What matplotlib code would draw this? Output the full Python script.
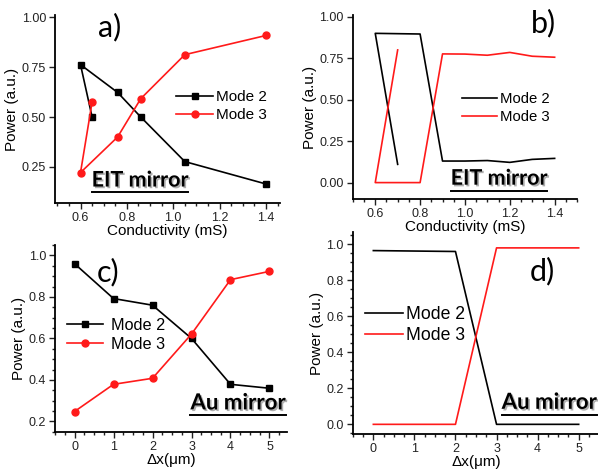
import matplotlib
matplotlib.use("Agg")
import matplotlib.pyplot as plt
import matplotlib.patheffects as pe
from matplotlib.ticker import AutoMinorLocator, FormatStrFormatter
from matplotlib.lines import Line2D

plt.rcParams["font.family"] = ["Liberation Sans", "DejaVu Sans"]

# ---- data ----------------------------------------------------------------
# a) EIT mirror, discrete points
a_x = [0.65, 0.60, 0.76, 0.86, 1.05, 1.40]
a_mode2 = [0.50, 0.762, 0.623, 0.50, 0.277, 0.165]
a_mode3 = [0.575, 0.222, 0.40, 0.592, 0.812, 0.908]

# b) EIT mirror, simulation
b_x = [0.7, 0.6, 0.8, 0.9, 1.0, 1.1, 1.2, 1.3, 1.4]
b_mode2 = [0.11, 0.90, 0.896, 0.13, 0.13, 0.133, 0.122, 0.14, 0.146]
b_mode3 = [0.80, 0.0, 0.0, 0.776, 0.775, 0.768, 0.785, 0.762, 0.756]

# c) Au mirror, discrete points
c_x = [0, 1, 2, 3, 4, 5]
c_mode2 = [0.96, 0.792, 0.76, 0.60, 0.379, 0.36]
c_mode3 = [0.248, 0.379, 0.408, 0.621, 0.883, 0.923]

# d) Au mirror, simulation
d_x = [0, 2, 3, 5]
d_mode2 = [0.965, 0.96, 0.0, 0.0]
d_mode3 = [0.0, 0.0, 0.98, 0.98]

labels = ["Mode 2", "Mode 3"]
RED = "#ff1a1a"
SHADOW = [pe.withSimplePatchShadow(offset=(1.2, -1.2), shadow_rgbFace="0.55",
                                   alpha=0.7)]

fig = plt.figure(figsize=(5.98, 4.72), dpi=100)
ax_a = fig.add_axes([0.092, 0.570, 0.376, 0.398])
ax_b = fig.add_axes([0.590, 0.578, 0.375, 0.390])
ax_c = fig.add_axes([0.092, 0.085, 0.388, 0.396])
ax_d = fig.add_axes([0.590, 0.080, 0.412, 0.428])
for ax in (ax_a, ax_b, ax_c, ax_d):
    ax.patch.set_alpha(0)


def style(ax, xfmt, yfmt, yminor):
    for s in ("top", "right"):
        ax.spines[s].set_visible(False)
    for s in ("left", "bottom"):
        ax.spines[s].set_linewidth(1.3)
    ax.tick_params(which="both", direction="out", width=1.0, labelsize=9,
                   colors="#222222", pad=2.5)
    ax.tick_params(which="major", length=4)
    ax.tick_params(which="minor", length=2)
    ax.xaxis.set_minor_locator(AutoMinorLocator(4))
    if yminor:
        ax.yaxis.set_minor_locator(AutoMinorLocator(yminor))
    ax.xaxis.set_major_formatter(FormatStrFormatter(xfmt))
    ax.yaxis.set_major_formatter(FormatStrFormatter(yfmt))


def tag(ax, txt, x, y, size, ha="center"):
    return ax.text(x, y, txt, transform=ax.transAxes, ha=ha, va="center",
                   fontsize=size, fontweight="bold", family="Lato",
                   path_effects=SHADOW)


def panel(ax, txt, x, y):
    ax.text(x, y, txt, transform=ax.transAxes, ha="center", va="center",
            fontsize=22, family="Lato")


def underline(t):
    fig.canvas.draw()
    bb = t.get_window_extent().transformed(fig.transFigure.inverted())
    y = bb.y0 - 0.004
    fig.add_artist(Line2D([bb.x0, bb.x1], [y, y], transform=fig.transFigure,
                          color="black", lw=1.4, path_effects=SHADOW))


# a)
ax_a.plot(a_x, a_mode2, "s-", color="black", lw=1.2, ms=4.5, label=labels[0])
ax_a.plot(a_x, a_mode3, "o-", color=RED, lw=1.2, ms=5, label=labels[1])
ax_a.set_xlim(0.49, 1.46)
ax_a.set_ylim(0.07, 1.01)
ax_a.set_xticks([0.6, 0.8, 1.0, 1.2, 1.4])
ax_a.set_yticks([0.25, 0.50, 0.75, 1.00])
style(ax_a, "%.1f", "%.2f", 0)
ax_a.set_xlabel("Conductivity (mS)", fontsize=11, labelpad=0)
ax_a.set_ylabel("Power (a.u.)", fontsize=11, labelpad=2)
ax_a.legend(loc="center left", bbox_to_anchor=(0.54, 0.516), frameon=False,
            fontsize=11, borderpad=0, borderaxespad=0, handlelength=2.4,
            handletextpad=0.2, labelspacing=0.25)
panel(ax_a, "a)", 0.244, 0.936)
t_a = tag(ax_a, "EIT mirror", 0.378, 0.122, 15.5)

# b)
ax_b.plot(b_x, b_mode2, "-", color="black", lw=1.2, label=labels[0])
ax_b.plot(b_x, b_mode3, "-", color=RED, lw=1.2, label=labels[1])
ax_b.set_xlim(0.5, 1.5)
ax_b.set_ylim(-0.10, 1.01)
ax_b.set_xticks([0.6, 0.8, 1.0, 1.2, 1.4])
ax_b.set_yticks([0.0, 0.25, 0.50, 0.75, 1.00])
style(ax_b, "%.1f", "%.2f", 0)
ax_b.set_xlabel("Conductivity (mS)", fontsize=11, labelpad=0)
ax_b.set_ylabel("Power (a.u.)", fontsize=11, labelpad=2)
ax_b.legend(loc="center left", bbox_to_anchor=(0.487, 0.495), frameon=False,
            fontsize=10.7, borderpad=0, borderaxespad=0, handlelength=2.35,
            handletextpad=0.2, labelspacing=0.3)
panel(ax_b, "b)", 0.848, 0.957)
t_b = tag(ax_b, "EIT mirror", 0.652, 0.114, 15.5)

# c)
ax_c.plot(c_x, c_mode2, "s-", color="black", lw=1.2, ms=4.5, label=labels[0])
ax_c.plot(c_x, c_mode3, "o-", color=RED, lw=1.2, ms=5, label=labels[1])
ax_c.set_xlim(-0.5, 5.45)
ax_c.set_ylim(0.15, 1.05)
ax_c.set_xticks(c_x)
ax_c.set_yticks([0.2, 0.4, 0.6, 0.8, 1.0])
style(ax_c, "%d", "%.1f", 4)
ax_c.set_xlabel("Δx(μm)", fontsize=11, labelpad=0)
ax_c.set_ylabel("Power (a.u.)", fontsize=11, labelpad=2)
ax_c.legend(loc="center left", bbox_to_anchor=(0.052, 0.519), frameon=False,
            fontsize=11.7, borderpad=0, borderaxespad=0, handlelength=2.2,
            handletextpad=0.5, labelspacing=0.25)
panel(ax_c, "c)", 0.228, 0.856)
t_c = tag(ax_c, "Au mirror", 0.79, 0.155, 16)

# d)
ax_d.plot(d_x, d_mode2, "-", color="black", lw=1.2, label=labels[0])
ax_d.plot(d_x, d_mode3, "-", color=RED, lw=1.2, label=labels[1])
ax_d.set_xlim(-0.5, 5.5)
ax_d.set_ylim(-0.055, 1.067)
ax_d.set_xticks([0, 1, 2, 3, 4, 5])
ax_d.set_yticks([0.0, 0.2, 0.4, 0.6, 0.8, 1.0])
style(ax_d, "%d", "%.1f", 4)
ax_d.set_xlabel("Δx(μm)", fontsize=11, labelpad=0)
ax_d.set_ylabel("Power (a.u.)", fontsize=11, labelpad=2)
ax_d.legend(loc="center left", bbox_to_anchor=(0.049, 0.54), frameon=False,
            fontsize=12.7, borderpad=0, borderaxespad=0, handlelength=2.15,
            handletextpad=0.2, labelspacing=0.2)
panel(ax_d, "d)", 0.771, 0.807)
t_d = tag(ax_d, "Au mirror", 0.604, 0.158, 16, ha="left")

for t in (t_a, t_b, t_c, t_d):
    underline(t)

fig.savefig("out.png", dpi=100)
